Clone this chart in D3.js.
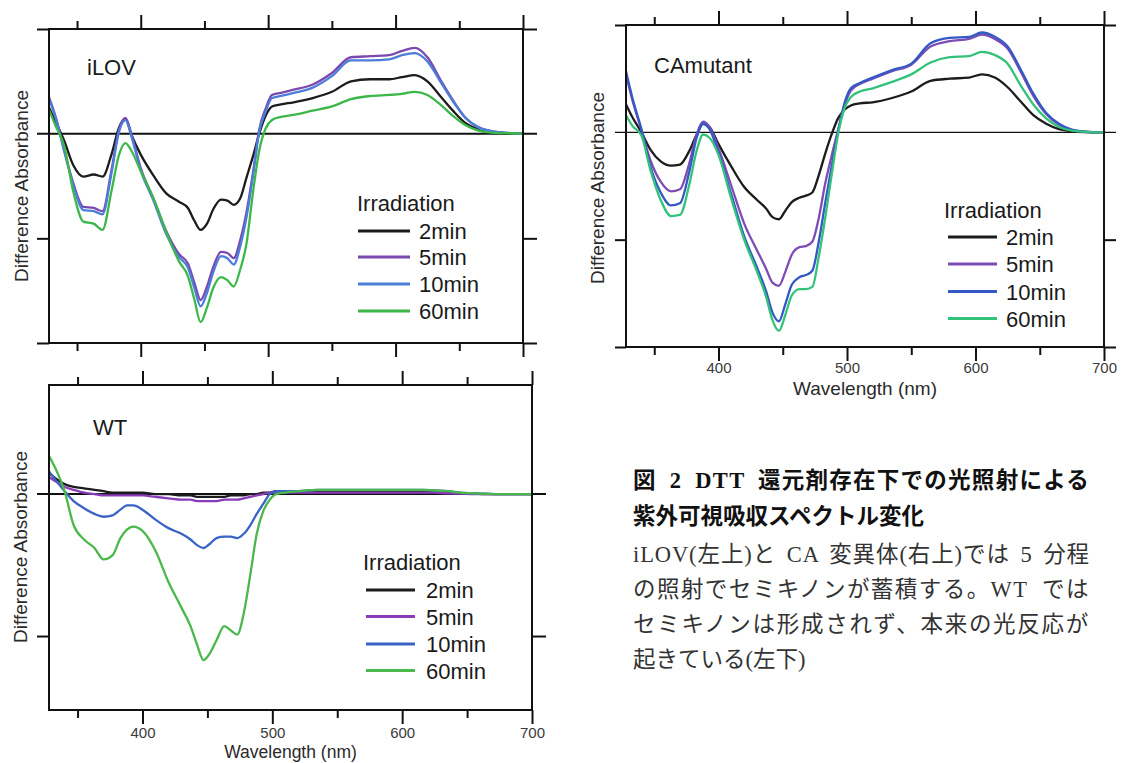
<!DOCTYPE html>
<html><head><meta charset="utf-8">
<script src="https://cdn.jsdelivr.net/npm/d3@7"></script>
<style>body{margin:0;background:#fff}svg{display:block}.sans{font-family:"Liberation Sans",Arial,sans-serif}</style>
</head><body><svg id="c" width="1125" height="763"></svg>
<script>
// ---- data ----
const wavelength = [328,333,340,347,355,363,370,377,383,388,393,400,410,420,430,437,442,447,452,457,463,468,473,478,483,488,493,498,503,510,520,535,550,565,580,595,605,615,625,635,645,655,665,675,685,700];
const irradiation = ["2min","5min","10min","60min"];

const ilov_2min = [0.25,0.12,-0.07,-0.30,-0.41,-0.39,-0.41,-0.20,0.06,0.14,-0.02,-0.20,-0.40,-0.57,-0.65,-0.71,-0.83,-0.92,-0.86,-0.72,-0.63,-0.64,-0.68,-0.62,-0.42,-0.22,0.00,0.17,0.26,0.28,0.30,0.34,0.40,0.50,0.52,0.52,0.54,0.56,0.50,0.36,0.22,0.10,0.04,0.015,0.005,0];
const ilov_5min = [0.35,0.17,-0.16,-0.47,-0.70,-0.71,-0.74,-0.35,0.04,0.15,-0.02,-0.33,-0.62,-0.93,-1.15,-1.24,-1.42,-1.59,-1.46,-1.27,-1.13,-1.14,-1.19,-1.02,-0.75,-0.38,0.04,0.24,0.37,0.39,0.42,0.47,0.58,0.73,0.74,0.75,0.79,0.82,0.73,0.52,0.32,0.15,0.06,0.025,0.01,0];
const ilov_10min = [0.34,0.16,-0.17,-0.49,-0.73,-0.74,-0.77,-0.38,0.02,0.13,-0.04,-0.35,-0.64,-0.96,-1.18,-1.28,-1.47,-1.65,-1.52,-1.32,-1.17,-1.19,-1.25,-1.08,-0.80,-0.41,0.02,0.21,0.34,0.36,0.39,0.44,0.55,0.70,0.70,0.71,0.75,0.77,0.69,0.50,0.31,0.15,0.06,0.025,0.01,0];
const ilov_60min = [0.23,0.08,-0.12,-0.55,-0.84,-0.86,-0.92,-0.55,-0.20,-0.09,-0.17,-0.36,-0.62,-0.94,-1.22,-1.36,-1.58,-1.80,-1.66,-1.47,-1.37,-1.40,-1.46,-1.30,-1.05,-0.57,-0.16,0.05,0.13,0.16,0.18,0.22,0.26,0.33,0.36,0.37,0.38,0.40,0.37,0.28,0.17,0.08,0.03,0.01,0.005,0];

const ca_2min = [0.26,0.14,0.00,-0.16,-0.27,-0.31,-0.30,-0.18,-0.02,0.08,0.05,-0.11,-0.32,-0.51,-0.63,-0.71,-0.79,-0.81,-0.73,-0.65,-0.61,-0.59,-0.56,-0.40,-0.20,-0.02,0.13,0.21,0.25,0.27,0.28,0.32,0.38,0.48,0.50,0.51,0.54,0.51,0.42,0.29,0.16,0.08,0.03,0.01,0.003,0];
const ca_5min = [0.54,0.30,0.02,-0.26,-0.46,-0.55,-0.53,-0.30,-0.02,0.10,0.05,-0.15,-0.50,-0.85,-1.10,-1.27,-1.40,-1.43,-1.30,-1.14,-1.07,-1.06,-1.02,-0.80,-0.48,-0.22,0.02,0.25,0.39,0.45,0.50,0.57,0.63,0.80,0.85,0.87,0.91,0.87,0.78,0.57,0.34,0.17,0.07,0.02,0.005,0];
const ca_10min = [0.57,0.32,0.03,-0.32,-0.56,-0.68,-0.66,-0.38,-0.05,0.08,0.03,-0.19,-0.58,-0.97,-1.26,-1.48,-1.68,-1.76,-1.60,-1.42,-1.35,-1.33,-1.29,-1.02,-0.66,-0.32,0.00,0.27,0.41,0.46,0.51,0.58,0.64,0.83,0.88,0.89,0.93,0.89,0.80,0.59,0.36,0.18,0.08,0.025,0.007,0];
const ca_60min = [0.16,0.06,-0.03,-0.35,-0.63,-0.78,-0.77,-0.50,-0.17,-0.02,-0.05,-0.21,-0.62,-1.00,-1.30,-1.53,-1.75,-1.85,-1.70,-1.52,-1.46,-1.46,-1.44,-1.16,-0.80,-0.40,-0.02,0.22,0.33,0.38,0.41,0.47,0.54,0.65,0.70,0.71,0.75,0.72,0.64,0.44,0.26,0.13,0.05,0.015,0.005,0];

const wt_2min = [0.15,0.11,0.07,0.05,0.04,0.03,0.02,0.01,0.01,0.01,0.01,0.01,0.00,0.00,-0.01,-0.01,-0.02,-0.02,-0.02,-0.02,-0.02,-0.01,-0.01,-0.01,0.00,0.00,0.01,0.01,0.02,0.02,0.02,0.02,0.02,0.02,0.02,0.02,0.02,0.02,0.015,0.01,0.005,0.003,0,0,0,0];
const wt_5min = [0.12,0.09,0.05,0.03,0.01,0.00,-0.01,-0.01,-0.01,-0.01,-0.01,-0.01,-0.02,-0.03,-0.04,-0.04,-0.05,-0.05,-0.05,-0.05,-0.04,-0.04,-0.04,-0.03,-0.02,-0.01,0.00,0.01,0.01,0.01,0.01,0.01,0.01,0.01,0.01,0.01,0.01,0.01,0.01,0.005,0.003,0,0,0,0,0];
const wt_10min = [0.16,0.10,0.02,-0.05,-0.10,-0.14,-0.16,-0.15,-0.11,-0.08,-0.08,-0.11,-0.18,-0.24,-0.28,-0.32,-0.36,-0.38,-0.35,-0.31,-0.30,-0.30,-0.31,-0.28,-0.22,-0.14,-0.07,0.00,0.02,0.02,0.02,0.03,0.03,0.03,0.03,0.03,0.03,0.03,0.025,0.02,0.01,0.005,0.002,0,0,0];
const wt_60min = [0.27,0.18,0.02,-0.22,-0.32,-0.38,-0.46,-0.43,-0.31,-0.25,-0.23,-0.26,-0.40,-0.62,-0.80,-0.93,-1.06,-1.17,-1.12,-1.03,-0.93,-0.96,-0.99,-0.84,-0.57,-0.28,-0.12,-0.04,0.00,0.01,0.02,0.03,0.03,0.03,0.03,0.03,0.03,0.03,0.025,0.02,0.01,0.005,0.002,0,0,0];

const xMajorTicks = [400,500,600,700];
const xMinorTicks = [350,450,550,650];
const panelNames = ["iLOV","CAmutant","WT"];
const legendTitle = "Irradiation";
const yAxisTitle = "Difference Absorbance";
const xAxisTitle = "Wavelength (nm)";
const captionTitle = ["図 2 DTT 還元剤存在下での光照射による","紫外可視吸収スペクトル変化"];
const captionBody = ["iLOV(左上)と CA 変異体(右上)では 5 分程","の照射でセミキノンが蓄積する。WT では","セミキノンは形成されず、本来の光反応が","起きている(左下)"];

// ---- layout ----
const panels = [
  {name:panelNames[0], series:[ilov_2min,ilov_5min,ilov_10min,ilov_60min],
   box:{l:49,r:523,t:29,b:343}, xDom:[328,700], yDom:[-2,1], yTicks:[-2,-1,1],
   colors:["#1c1c1c","#7b48b0","#4a7ed8","#3cb84a"], zeroW:2, tL:12, tR:14,
   showX:false, namePos:[87,75], yLab:[21,186],
   leg:{tx:357,ty:211,x1:358,x2:410,lx:419,rows:[231,257,284,311]}},
  {name:panelNames[1], series:[ca_2min,ca_5min,ca_10min,ca_60min],
   box:{l:626,r:1104,t:25,b:347}, xDom:[328,700], yDom:[-2,1], yTicks:[-2,-1,1],
   colors:["#1c1c1c","#7d4cb4","#3459c4","#33c27a"], zeroW:1.2, tL:11, tR:12,
   showX:true, labPad:1, xLabY:395, xLabSize:19, namePos:[654,73], yLab:[597,188],
   leg:{tx:944,ty:218,x1:948,x2:997,lx:1006,rows:[237,264,291.5,318.5]}},
  {name:panelNames[2], series:[wt_2min,wt_5min,wt_10min,wt_60min],
   box:{l:49,r:532,t:385,b:710}, xDom:[328,700], yDom:[-1.521,0.768], yTicks:[-1],
   colors:["#1c1c1c","#8a3cb8","#3a63c6","#4ab84a"], zeroW:2, tL:12, tR:14,
   showX:true, labPad:3, xLabY:757.5, xLabSize:17.5, namePos:[93,435], yLab:[20,547],
   leg:{tx:363,ty:570,x1:366,x2:415,lx:426,rows:[590,616.5,644,670.5]}}
];

const svg = d3.select("#c");
svg.append("rect").attr("width",1125).attr("height",763).attr("fill","#fff");

panels.forEach((p,pi)=>{
  const B = p.box;
  const x = d3.scaleLinear().domain(p.xDom).range([B.l,B.r]);
  const y = d3.scaleLinear().domain(p.yDom).range([B.b,B.t]);
  const g = svg.append("g").attr("class","sans");
  const clipId = "clip"+pi;
  g.append("clipPath").attr("id",clipId).append("rect")
    .attr("x",B.l).attr("y",B.t).attr("width",B.r-B.l).attr("height",B.b-B.t);

  const styleAxis = sel => { sel.select(".domain").remove(); sel.selectAll(".tick line").attr("stroke","#111").attr("stroke-width",2); };
  // bottom
  const bMaj = g.append("g").attr("transform",`translate(0,${B.b})`)
    .call(d3.axisBottom(x).tickValues(xMajorTicks).tickSize(14).tickPadding(p.labPad||3)
      .tickFormat(p.showX ? d3.format("d") : ""));
  styleAxis(bMaj);
  bMaj.selectAll(".tick text").attr("font-size",15).attr("fill","#3a3a3a").attr("font-family","Liberation Sans, Arial, sans-serif");
  styleAxis(g.append("g").attr("transform",`translate(0,${B.b})`).call(d3.axisBottom(x).tickValues(xMinorTicks).tickSize(8).tickFormat("")));
  // top
  styleAxis(g.append("g").attr("transform",`translate(0,${B.t})`).call(d3.axisTop(x).tickValues(xMajorTicks).tickSize(14).tickFormat("")));
  styleAxis(g.append("g").attr("transform",`translate(0,${B.t})`).call(d3.axisTop(x).tickValues(xMinorTicks).tickSize(8).tickFormat("")));
  // left / right
  styleAxis(g.append("g").attr("transform",`translate(${B.l},0)`).call(d3.axisLeft(y).tickValues(p.yTicks).tickSize(p.tL).tickFormat("")));
  styleAxis(g.append("g").attr("transform",`translate(${B.r},0)`).call(d3.axisRight(y).tickValues(p.yTicks).tickSize(p.tR).tickFormat("")));

  // zero line
  g.append("line").attr("x1",B.l-p.tL).attr("x2",B.r+p.tR).attr("y1",y(0)).attr("y2",y(0))
    .attr("stroke","#111").attr("stroke-width",p.zeroW);

  // curves
  const line = d3.line().x((d,i)=>x(wavelength[i])).y(d=>y(d)).curve(d3.curveMonotoneX);
  const cg = g.append("g").attr("clip-path",`url(#${clipId})`);
  p.series.forEach((s,si)=>{
    cg.append("path").datum(s).attr("d",line).attr("fill","none")
      .attr("stroke",p.colors[si]).attr("stroke-width",2.3).attr("stroke-linejoin","round");
  });

  // frame
  g.append("rect").attr("x",B.l).attr("y",B.t).attr("width",B.r-B.l).attr("height",B.b-B.t)
    .attr("fill","none").attr("stroke","#111").attr("stroke-width",2);

  // labels
  g.append("text").attr("x",p.namePos[0]).attr("y",p.namePos[1]).attr("font-size",22).attr("fill","#1a1a1a").text(p.name);
  g.append("text").attr("transform",`translate(${p.yLab[0]},${p.yLab[1]}) rotate(-90)`)
    .attr("text-anchor","middle").attr("dominant-baseline","central")
    .attr("font-size",19).attr("fill","#2a2a2a").text(yAxisTitle);
  if (p.showX) {
    g.append("text").attr("x",(B.l+B.r)/2).attr("y",p.xLabY).attr("text-anchor","middle")
      .attr("font-size",p.xLabSize).attr("fill","#2a2a2a").text(xAxisTitle);
  }
  // legend
  const L = p.leg;
  g.append("text").attr("x",L.tx).attr("y",L.ty).attr("font-size",22).attr("fill","#1a1a1a").text(legendTitle);
  irradiation.forEach((lab,i)=>{
    g.append("line").attr("x1",L.x1).attr("x2",L.x2).attr("y1",L.rows[i]).attr("y2",L.rows[i])
      .attr("stroke",p.colors[i]).attr("stroke-width",3);
    g.append("text").attr("x",L.lx).attr("y",L.rows[i]+8).attr("font-size",22).attr("fill","#1a1a1a").text(lab);
  });
});

// caption
const cap = svg.append("g").attr("font-family","'Liberation Serif','Noto Sans CJK JP',serif");
const capLines = captionTitle.map(t=>({t,bold:true})).concat(captionBody.map(t=>({t,bold:false})));
const capBase = [488,524,562,597,632,667];
const justify = [true,false,true,true,true,false];
const capWidth = 457;
capLines.forEach((c,i)=>{
  const t = cap.append("text").attr("x",633).attr("y",capBase[i]).attr("font-size",22.5)
    .attr("font-weight",c.bold?"bold":"normal").attr("fill",c.bold?"#111":"#333").text(c.t);
  if (justify[i]) {
    const natural = t.node().getComputedTextLength();
    let extra = capWidth - natural;
    const nSpaces = (c.t.match(/ /g)||[]).length;
    if (extra > 0) {
      let ws = 0;
      if (nSpaces > 0) { ws = Math.min(extra*0.4/nSpaces, 7); t.style("word-spacing", ws+"px"); }
      const rest = extra - ws*nSpaces;
      t.style("letter-spacing", (rest/(Array.from(c.t).length))+"px");
    }
  }
});
</script></body></html>
